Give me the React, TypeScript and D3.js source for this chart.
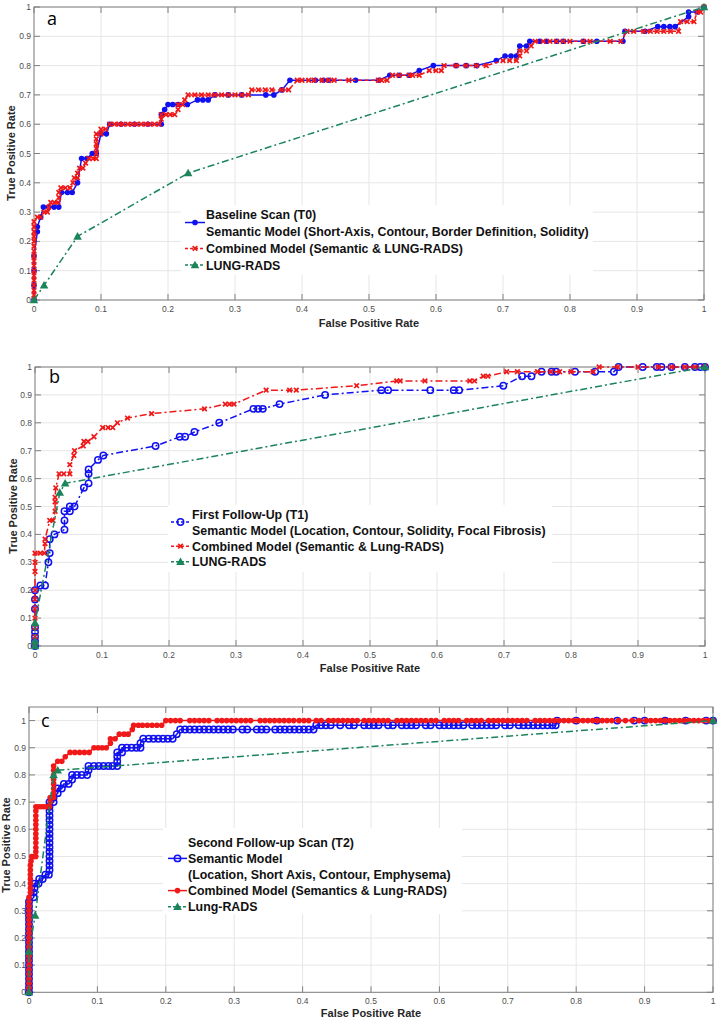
import React from 'react';
import * as d3 from 'd3';

type Pt = [number, number];

const tickValues = [0, 0.1, 0.2, 0.3, 0.4, 0.5, 0.6, 0.7, 0.8, 0.9, 1];
const tickLabels = ['0', '0.1', '0.2', '0.3', '0.4', '0.5', '0.6', '0.7', '0.8', '0.9', '1'];
const xAxisTitle = 'False Positive Rate';
const yAxisTitle = 'True Positive Rate';

// ---------- Panel a : Baseline scan (T0) ----------
const t0Semantic: Pt[] = [
  [0, 0], [0, 0.05], [0, 0.1], [0, 0.15], [0.005, 0.233], [0.005, 0.25], [0.01, 0.283], [0.014, 0.317],
  [0.022, 0.317], [0.03, 0.317], [0.037, 0.317], [0.041, 0.367], [0.05, 0.367], [0.057, 0.367], [0.065, 0.4],
  [0.071, 0.483], [0.079, 0.483], [0.087, 0.5], [0.093, 0.5], [0.1, 0.567], [0.108, 0.567], [0.113, 0.6],
  [0.13, 0.6], [0.15, 0.6], [0.17, 0.6], [0.19, 0.6], [0.19, 0.633], [0.195, 0.65], [0.2, 0.667], [0.207, 0.667],
  [0.215, 0.667], [0.229, 0.667], [0.244, 0.683], [0.252, 0.683], [0.26, 0.683], [0.27, 0.7], [0.29, 0.7],
  [0.31, 0.7], [0.346, 0.7], [0.358, 0.7], [0.37, 0.717], [0.382, 0.75], [0.42, 0.75], [0.432, 0.75],
  [0.44, 0.75], [0.48, 0.75], [0.515, 0.75], [0.531, 0.767], [0.545, 0.767], [0.56, 0.767], [0.575, 0.783],
  [0.596, 0.8], [0.63, 0.8], [0.645, 0.8], [0.661, 0.8], [0.69, 0.817], [0.703, 0.833], [0.712, 0.833],
  [0.72, 0.833], [0.725, 0.867], [0.735, 0.867], [0.74, 0.883], [0.755, 0.883], [0.765, 0.883], [0.78, 0.883],
  [0.79, 0.883], [0.82, 0.883], [0.84, 0.883], [0.879, 0.883], [0.882, 0.917], [0.912, 0.917], [0.931, 0.933],
  [0.94, 0.933], [0.949, 0.933], [0.957, 0.933], [0.977, 0.967], [0.977, 0.983], [0.99, 0.983], [1, 1],
];
const t0Combined: Pt[] = [
  [0, 0], [0, 0.017], [0, 0.033], [0, 0.05], [0, 0.067], [0, 0.083], [0, 0.1], [0, 0.117], [0, 0.133],
  [0, 0.15], [0, 0.167], [0, 0.183], [0, 0.2], [0, 0.217], [0, 0.233], [0, 0.25], [0, 0.267], [0.005, 0.283],
  [0.01, 0.283], [0.015, 0.3], [0.02, 0.3], [0.022, 0.317], [0.025, 0.333], [0.03, 0.333], [0.036, 0.333],
  [0.037, 0.35], [0.037, 0.367], [0.04, 0.383], [0.047, 0.383], [0.054, 0.383], [0.058, 0.4], [0.06, 0.417],
  [0.065, 0.417], [0.065, 0.433], [0.068, 0.45], [0.073, 0.45], [0.077, 0.467], [0.082, 0.483], [0.088, 0.483],
  [0.093, 0.483], [0.093, 0.5], [0.093, 0.517], [0.093, 0.533], [0.093, 0.55], [0.093, 0.567], [0.1, 0.567],
  [0.1, 0.583], [0.107, 0.583], [0.113, 0.6], [0.12, 0.6], [0.127, 0.6], [0.133, 0.6], [0.14, 0.6], [0.147, 0.6],
  [0.153, 0.6], [0.16, 0.6], [0.167, 0.6], [0.173, 0.6], [0.18, 0.6], [0.187, 0.6], [0.19, 0.617], [0.19, 0.633],
  [0.197, 0.633], [0.203, 0.633], [0.21, 0.633], [0.215, 0.65], [0.215, 0.667], [0.222, 0.667], [0.225, 0.683],
  [0.23, 0.7], [0.24, 0.7], [0.25, 0.7], [0.26, 0.7], [0.27, 0.7], [0.28, 0.7], [0.29, 0.7], [0.3, 0.7],
  [0.31, 0.7], [0.32, 0.7], [0.325, 0.717], [0.335, 0.717], [0.345, 0.717], [0.355, 0.717], [0.37, 0.717],
  [0.38, 0.717], [0.393, 0.75], [0.4, 0.75], [0.41, 0.75], [0.418, 0.75], [0.43, 0.75], [0.44, 0.75],
  [0.448, 0.75], [0.47, 0.75], [0.514, 0.75], [0.519, 0.75], [0.527, 0.75], [0.535, 0.767], [0.545, 0.767],
  [0.56, 0.767], [0.565, 0.767], [0.575, 0.767], [0.59, 0.783], [0.6, 0.783], [0.608, 0.783], [0.612, 0.8],
  [0.63, 0.8], [0.645, 0.8], [0.66, 0.8], [0.675, 0.8], [0.7, 0.817], [0.71, 0.817], [0.72, 0.817],
  [0.725, 0.833], [0.725, 0.85], [0.735, 0.85], [0.742, 0.867], [0.748, 0.883], [0.76, 0.883], [0.77, 0.883],
  [0.78, 0.883], [0.79, 0.883], [0.8, 0.883], [0.82, 0.883], [0.83, 0.883], [0.86, 0.883], [0.876, 0.883],
  [0.885, 0.917], [0.895, 0.917], [0.91, 0.917], [0.92, 0.917], [0.93, 0.917], [0.94, 0.917], [0.95, 0.917],
  [0.962, 0.917], [0.965, 0.95], [0.975, 0.95], [0.985, 0.95], [0.99, 0.983], [0.995, 0.983], [1, 1],
];
const t0LungRads: Pt[] = [[0, 0], [0.015, 0.05], [0.065, 0.217], [0.23, 0.433], [1, 1]];
const t0Legend = [
  'Baseline Scan (T0)',
  'Semantic Model (Short-Axis, Contour, Border Definition, Solidity)',
  'Combined Model (Semantic & LUNG-RADS)',
  'LUNG-RADS',
];

// ---------- Panel b : First follow-up (T1) ----------
const t1Semantic: Pt[] = [
  [0, 0], [0, 0.017], [0, 0.033], [0, 0.05], [0, 0.067], [0, 0.133], [0, 0.167], [0, 0.2], [0.008, 0.217],
  [0.015, 0.217], [0.02, 0.3], [0.022, 0.333], [0.022, 0.383], [0.029, 0.4], [0.044, 0.417], [0.044, 0.45],
  [0.044, 0.483], [0.052, 0.483], [0.052, 0.5], [0.059, 0.5], [0.073, 0.567], [0.08, 0.583], [0.08, 0.617],
  [0.08, 0.633], [0.094, 0.667], [0.102, 0.683], [0.18, 0.717], [0.216, 0.75], [0.224, 0.75], [0.238, 0.767],
  [0.275, 0.8], [0.326, 0.85], [0.333, 0.85], [0.34, 0.85], [0.365, 0.867], [0.433, 0.9], [0.517, 0.917],
  [0.527, 0.917], [0.59, 0.917], [0.625, 0.917], [0.633, 0.917], [0.699, 0.933], [0.727, 0.967], [0.741, 0.967],
  [0.756, 0.983], [0.771, 0.983], [0.778, 0.983], [0.806, 0.983], [0.836, 0.983], [0.864, 0.983], [0.871, 1],
  [0.907, 1], [0.928, 1], [0.935, 1], [0.95, 1], [0.97, 1], [0.985, 1], [0.993, 1], [1, 1],
];
const t1Combined: Pt[] = [
  [0, 0], [0, 0.033], [0, 0.067], [0, 0.1], [0, 0.133], [0, 0.167], [0, 0.2], [0, 0.267], [0, 0.3], [0, 0.333],
  [0.008, 0.333], [0.014, 0.333], [0.015, 0.367], [0.015, 0.383], [0.022, 0.45], [0.027, 0.45], [0.03, 0.483],
  [0.03, 0.517], [0.03, 0.533], [0.031, 0.567], [0.036, 0.617], [0.043, 0.617], [0.052, 0.617], [0.052, 0.65],
  [0.058, 0.683], [0.059, 0.7], [0.072, 0.717], [0.073, 0.733], [0.079, 0.733], [0.088, 0.75], [0.101, 0.783],
  [0.109, 0.783], [0.116, 0.783], [0.123, 0.8], [0.138, 0.817], [0.174, 0.833], [0.253, 0.85], [0.284, 0.867],
  [0.29, 0.867], [0.297, 0.867], [0.345, 0.917], [0.38, 0.917], [0.39, 0.917], [0.48, 0.933], [0.54, 0.95],
  [0.545, 0.95], [0.582, 0.95], [0.649, 0.95], [0.656, 0.95], [0.669, 0.967], [0.676, 0.967], [0.704, 0.983],
  [0.72, 0.983], [0.75, 0.983], [0.77, 0.983], [0.783, 0.983], [0.8, 0.983], [0.833, 0.983], [0.842, 1],
  [0.87, 1], [0.9, 1], [0.93, 1], [0.95, 1], [0.97, 1], [0.985, 1], [1, 1],
];
const t1LungRads: Pt[] = [[0, 0], [0, 0.017], [0, 0.083], [0.037, 0.55], [0.045, 0.583], [1, 1]];
const t1Legend = [
  'First Follow-Up (T1)',
  'Semantic Model (Location, Contour, Solidity, Focal Fibrosis)',
  'Combined Model (Semantic & Lung-RADS)',
  'LUNG-RADS',
];

// ---------- Panel c : Second follow-up (T2) ----------
const t2Semantic: Pt[] = [
  [0, 0], [0, 0.017], [0, 0.033], [0, 0.05], [0, 0.067], [0, 0.083], [0, 0.1], [0, 0.117], [0, 0.133],
  [0, 0.15], [0, 0.167], [0, 0.183], [0, 0.2], [0, 0.217], [0, 0.233], [0, 0.25], [0, 0.267], [0, 0.283],
  [0, 0.3], [0, 0.317], [0, 0.333], [0.007, 0.35], [0.007, 0.367], [0.008, 0.383], [0.008, 0.4], [0.014, 0.4],
  [0.015, 0.417], [0.02, 0.417], [0.024, 0.433], [0.029, 0.433], [0.03, 0.45], [0.03, 0.467], [0.03, 0.483],
  [0.03, 0.5], [0.03, 0.517], [0.03, 0.533], [0.03, 0.55], [0.03, 0.567], [0.03, 0.583], [0.03, 0.6],
  [0.03, 0.617], [0.03, 0.633], [0.03, 0.65], [0.03, 0.667], [0.03, 0.683], [0.03, 0.7], [0.036, 0.7],
  [0.036, 0.717], [0.042, 0.733], [0.042, 0.75], [0.048, 0.75], [0.051, 0.767], [0.058, 0.767], [0.063, 0.783],
  [0.063, 0.8], [0.07, 0.8], [0.077, 0.8], [0.085, 0.8], [0.087, 0.817], [0.087, 0.833], [0.095, 0.833],
  [0.102, 0.833], [0.109, 0.833], [0.116, 0.833], [0.122, 0.833], [0.129, 0.833], [0.129, 0.85], [0.129, 0.867],
  [0.129, 0.883], [0.136, 0.883], [0.136, 0.9], [0.143, 0.9], [0.15, 0.9], [0.157, 0.9], [0.163, 0.9],
  [0.163, 0.917], [0.167, 0.933], [0.175, 0.933], [0.182, 0.933], [0.189, 0.933], [0.196, 0.933], [0.203, 0.933],
  [0.21, 0.933], [0.216, 0.95], [0.221, 0.967], [0.228, 0.967], [0.235, 0.967], [0.242, 0.967], [0.249, 0.967],
  [0.256, 0.967], [0.263, 0.967], [0.27, 0.967], [0.277, 0.967], [0.284, 0.967], [0.291, 0.967], [0.298, 0.967],
  [0.312, 0.967], [0.319, 0.967], [0.333, 0.967], [0.34, 0.967], [0.347, 0.967], [0.36, 0.967], [0.367, 0.967],
  [0.374, 0.967], [0.381, 0.967], [0.388, 0.967], [0.395, 0.967], [0.402, 0.967], [0.409, 0.967], [0.416, 0.967],
  [0.42, 0.983], [0.427, 0.983], [0.434, 0.983], [0.441, 0.983], [0.455, 0.983], [0.468, 0.983], [0.475, 0.983],
  [0.49, 0.983], [0.497, 0.983], [0.504, 0.983], [0.511, 0.983], [0.525, 0.983], [0.532, 0.983], [0.545, 0.983],
  [0.552, 0.983], [0.559, 0.983], [0.566, 0.983], [0.58, 0.983], [0.587, 0.983], [0.6, 0.983], [0.607, 0.983],
  [0.614, 0.983], [0.621, 0.983], [0.628, 0.983], [0.635, 0.983], [0.648, 0.983], [0.655, 0.983], [0.662, 0.983],
  [0.669, 0.983], [0.676, 0.983], [0.683, 0.983], [0.696, 0.983], [0.703, 0.983], [0.716, 0.983], [0.723, 0.983],
  [0.73, 0.983], [0.737, 0.983], [0.744, 0.983], [0.751, 0.983], [0.758, 0.983], [0.765, 0.983], [0.77, 0.983],
  [0.772, 1], [0.8, 1], [0.83, 1], [0.86, 1], [0.885, 1], [0.9, 1], [0.93, 1], [0.96, 1], [0.99, 1], [1, 1],
];
const t2Combined: Pt[] = [
  [0, 0], [0, 0.017], [0, 0.033], [0, 0.05], [0, 0.067], [0, 0.083], [0, 0.1], [0, 0.117], [0, 0.133],
  [0, 0.15], [0, 0.167], [0, 0.183], [0, 0.2], [0, 0.217], [0, 0.233], [0, 0.25], [0, 0.267], [0, 0.283],
  [0, 0.3], [0, 0.317], [0, 0.333], [0, 0.35], [0.002, 0.367], [0.002, 0.383], [0.002, 0.4], [0.002, 0.417],
  [0.002, 0.433], [0.002, 0.45], [0.002, 0.467], [0.003, 0.483], [0.004, 0.5], [0.007, 0.5], [0.01, 0.5],
  [0.01, 0.517], [0.01, 0.533], [0.01, 0.55], [0.01, 0.567], [0.01, 0.583], [0.01, 0.6], [0.01, 0.617],
  [0.01, 0.633], [0.01, 0.65], [0.01, 0.667], [0.01, 0.683], [0.014, 0.683], [0.018, 0.683], [0.022, 0.683],
  [0.026, 0.683], [0.03, 0.683], [0.031, 0.7], [0.031, 0.717], [0.034, 0.717], [0.036, 0.717], [0.036, 0.733],
  [0.036, 0.75], [0.036, 0.767], [0.036, 0.783], [0.036, 0.8], [0.036, 0.817], [0.036, 0.833], [0.042, 0.85],
  [0.048, 0.85], [0.053, 0.867], [0.06, 0.883], [0.067, 0.883], [0.074, 0.883], [0.081, 0.883], [0.088, 0.883],
  [0.095, 0.9], [0.101, 0.9], [0.107, 0.9], [0.113, 0.9], [0.119, 0.917], [0.119, 0.933], [0.126, 0.933],
  [0.132, 0.95], [0.139, 0.95], [0.145, 0.95], [0.151, 0.967], [0.153, 0.983], [0.16, 0.983], [0.166, 0.983],
  [0.173, 0.983], [0.18, 0.983], [0.187, 0.983], [0.194, 0.983], [0.2, 1], [0.207, 1], [0.214, 1], [0.221, 1],
  [0.235, 1], [0.242, 1], [0.249, 1], [0.256, 1], [0.263, 1], [0.275, 1], [0.282, 1], [0.289, 1], [0.296, 1],
  [0.303, 1], [0.31, 1], [0.317, 1], [0.324, 1], [0.338, 1], [0.345, 1], [0.352, 1], [0.359, 1], [0.366, 1],
  [0.373, 1], [0.38, 1], [0.387, 1], [0.395, 1], [0.402, 1], [0.409, 1], [0.42, 1], [0.427, 1], [0.438, 1],
  [0.445, 1], [0.452, 1], [0.459, 1], [0.466, 1], [0.473, 1], [0.48, 1], [0.49, 1], [0.497, 1], [0.504, 1],
  [0.511, 1], [0.518, 1], [0.525, 1], [0.538, 1], [0.545, 1], [0.552, 1], [0.559, 1], [0.566, 1], [0.573, 1],
  [0.58, 1], [0.588, 1], [0.595, 1], [0.607, 1], [0.614, 1], [0.621, 1], [0.628, 1], [0.64, 1], [0.647, 1],
  [0.654, 1], [0.661, 1], [0.672, 1], [0.679, 1], [0.686, 1], [0.693, 1], [0.7, 1], [0.707, 1], [0.714, 1],
  [0.721, 1], [0.728, 1], [0.74, 1], [0.747, 1], [0.754, 1], [0.761, 1], [0.768, 1], [0.775, 1], [0.782, 1],
  [0.789, 1], [0.796, 1], [0.803, 1], [0.81, 1], [0.817, 1], [0.824, 1], [0.831, 1], [0.838, 1], [0.845, 1],
  [0.852, 1], [0.862, 1], [0.872, 1], [0.882, 1], [0.892, 1], [0.902, 1], [0.909, 1], [0.916, 1], [0.923, 1],
  [0.93, 1], [0.937, 1], [0.944, 1], [0.951, 1], [0.958, 1], [0.965, 1], [0.972, 1], [0.979, 1], [0.986, 1],
  [0.993, 1], [1, 1],
];
const t2LungRads: Pt[] = [[0, 0], [0, 0.15], [0.009, 0.283], [0.036, 0.8], [0.042, 0.817], [1, 1]];
const t2Legend = [
  'Second Follow-up Scan (T2)',
  'Semantic Model',
  '(Location, Short Axis, Contour, Emphysema)',
  'Combined Model (Semantics & Lung-RADS)',
  'Lung-RADS',
];

// ---------- styling ----------
const BLUE = '#1010f0';
const RED = '#f01818';
const GREEN = '#1b845a';
const FONT = "'Liberation Sans', Arial, sans-serif";

type Marker = 'dot' | 'x' | 'circle' | 'tri';
interface Series {
  data: Pt[];
  color: string;
  dash: string | null;
  marker: Marker;
  legendRow: number;
}

interface PanelCfg {
  letter: string;
  left: number;
  right: number;
  top: number;
  bottom: number;
  yMax: number;
  series: Series[];
  legend: string[];
  legendX: number;
  legendTop: number;
  legendStep: number;
  legendBox: [number, number, number, number];
  sampleX: [number, number];
  letterPos: [number, number];
  xTitleY: number;
  yTitleX: number;
  yTitleCY: number;
}

const DASHDOT = '7,3,2,3';
const DASHED = '4,2.5';

const panels: PanelCfg[] = [
  {
    letter: 'a', left: 34, right: 704, top: 7, bottom: 300, yMax: 1,
    series: [
      { data: t0Semantic, color: BLUE, dash: null, marker: 'dot', legendRow: 0.45 },
      { data: t0Combined, color: RED, dash: DASHED, marker: 'x', legendRow: 2 },
      { data: t0LungRads, color: GREEN, dash: DASHDOT, marker: 'tri', legendRow: 3 },
    ],
    legend: t0Legend, legendX: 206, legendTop: 215, legendStep: 16.7,
    legendBox: [181, 205, 593, 275], sampleX: [185, 205], letterPos: [47, 25],
    xTitleY: 327, yTitleX: 15, yTitleCY: 153,
  },
  {
    letter: 'b', left: 35, right: 705, top: 367, bottom: 646, yMax: 1,
    series: [
      { data: t1Semantic, color: BLUE, dash: DASHDOT, marker: 'circle', legendRow: 0.45 },
      { data: t1Combined, color: RED, dash: DASHDOT, marker: 'x', legendRow: 2 },
      { data: t1LungRads, color: GREEN, dash: DASHDOT, marker: 'tri', legendRow: 3 },
    ],
    legend: t1Legend, legendX: 192, legendTop: 515, legendStep: 15.6,
    legendBox: [168, 505, 552, 572], sampleX: [171, 190], letterPos: [49, 383],
    xTitleY: 672, yTitleX: 17, yTitleCY: 506,
  },
  {
    letter: 'c', left: 29, right: 713, top: 707, bottom: 992.3, yMax: 1.05,
    series: [
      { data: t2Semantic, color: BLUE, dash: null, marker: 'circle', legendRow: 1 },
      { data: t2Combined, color: RED, dash: null, marker: 'dot', legendRow: 3 },
      { data: t2LungRads, color: GREEN, dash: DASHDOT, marker: 'tri', legendRow: 4 },
    ],
    legend: t2Legend, legendX: 188, legendTop: 842.3, legendStep: 16.1,
    legendBox: [163, 828, 462, 914], sampleX: [168, 187], letterPos: [41, 727],
    xTitleY: 1017, yTitleX: 10, yTitleCY: 845,
  },
];

function MarkerShape({ kind, cx, cy, color }: { kind: Marker; cx: number; cy: number; color: string }) {
  if (kind === 'dot') return <circle cx={cx} cy={cy} r={2.8} fill={color} />;
  if (kind === 'circle') return <circle cx={cx} cy={cy} r={3.2} fill="none" stroke={color} strokeWidth={1.5} />;
  if (kind === 'x') {
    const s = 2.3;
    return (
      <g stroke={color} strokeWidth={1.7}>
        <line x1={cx - s} y1={cy - s} x2={cx + s} y2={cy + s} />
        <line x1={cx - s} y1={cy + s} x2={cx + s} y2={cy - s} />
      </g>
    );
  }
  const h = 4.3;
  return <path d={`M${cx},${cy - h} L${cx + h},${cy + h * 0.75} L${cx - h},${cy + h * 0.75} Z`} fill={color} />;
}

function Panel({ cfg }: { cfg: PanelCfg }) {
  const x = d3.scaleLinear().domain([0, 1]).range([cfg.left, cfg.right]);
  const y = d3.scaleLinear().domain([0, cfg.yMax]).range([cfg.bottom, cfg.top]);
  const line = d3.line<Pt>().x((d) => x(d[0])).y((d) => y(d[1]));
  const tl = 6;
  const frame = '#808080';
  const [bx0, by0, bx1, by1] = cfg.legendBox;
  return (
    <g>
      {tickValues.map((t) => (
        <line key={'gx' + t} x1={x(t)} x2={x(t)} y1={cfg.top} y2={cfg.bottom} stroke="#e6e6e6" strokeWidth={1} />
      ))}
      {tickValues.map((t) => (
        <line key={'gy' + t} x1={cfg.left} x2={cfg.right} y1={y(t)} y2={y(t)} stroke="#e6e6e6" strokeWidth={1} />
      ))}
      <rect x={cfg.left} y={cfg.top} width={cfg.right - cfg.left} height={cfg.bottom - cfg.top} fill="none" stroke={frame} strokeWidth={1} />
      {tickValues.map((t) => (
        <g key={'tk' + t} stroke={frame} strokeWidth={1}>
          <line x1={x(t)} x2={x(t)} y1={cfg.bottom} y2={cfg.bottom - tl} />
          <line x1={x(t)} x2={x(t)} y1={cfg.top} y2={cfg.top + tl} />
          <line x1={cfg.left} x2={cfg.left + tl} y1={y(t)} y2={y(t)} />
          <line x1={cfg.right} x2={cfg.right - tl} y1={y(t)} y2={y(t)} />
        </g>
      ))}
      {tickValues.map((t, i) => (
        <text key={'xl' + t} x={x(t)} y={cfg.bottom + 11.5} fontSize={8.5} fill="#4d4d4d" textAnchor="middle" fontFamily={FONT}>
          {tickLabels[i]}
        </text>
      ))}
      {tickValues.map((t, i) => (
        <text key={'yl' + t} x={cfg.left - 3} y={y(t) + 3} fontSize={8.5} fill="#4d4d4d" textAnchor="end" fontFamily={FONT}>
          {tickLabels[i]}
        </text>
      ))}
      <text x={(cfg.left + cfg.right) / 2} y={cfg.xTitleY} fontSize={11} fontWeight="bold" fill="#262626" textAnchor="middle" fontFamily={FONT}>
        {xAxisTitle}
      </text>
      <text transform={`translate(${cfg.yTitleX},${cfg.yTitleCY}) rotate(-90)`} fontSize={11} fontWeight="bold" fill="#262626" textAnchor="middle" fontFamily={FONT}>
        {yAxisTitle}
      </text>
      {cfg.series.map((s, si) => (
        <g key={'s' + si}>
          <path d={line(s.data) || ''} fill="none" stroke={s.color} strokeWidth={1.5} strokeDasharray={s.dash || undefined} />
          {s.data.map((d, i) => (
            <MarkerShape key={i} kind={s.marker} cx={x(d[0])} cy={y(d[1])} color={s.color} />
          ))}
        </g>
      ))}
      <text x={cfg.letterPos[0]} y={cfg.letterPos[1]} fontSize={18} fill="#000" fontFamily="'Open Sans', sans-serif">
        {cfg.letter}
      </text>
      <rect x={bx0} y={by0} width={bx1 - bx0} height={by1 - by0} fill="#fff" />
      {cfg.legend.map((t, i) => (
        <text key={'lg' + i} x={cfg.legendX} y={cfg.legendTop + i * cfg.legendStep + 4.4} fontSize={12.4} fontWeight="bold" fill="#111" fontFamily={FONT}>
          {t}
        </text>
      ))}
      {cfg.series.map((s, si) => {
        const ly = cfg.legendTop + s.legendRow * cfg.legendStep;
        const mx = (cfg.sampleX[0] + cfg.sampleX[1]) / 2;
        return (
          <g key={'ls' + si}>
            <line x1={cfg.sampleX[0]} x2={cfg.sampleX[1]} y1={ly} y2={ly} stroke={s.color} strokeWidth={1.5} strokeDasharray={s.dash ? '3,2' : undefined} />
            <MarkerShape kind={s.marker} cx={mx} cy={ly} color={s.color} />
          </g>
        );
      })}
    </g>
  );
}

export default function App() {
  return (
    <svg width={720} height={1020} style={{ position: 'absolute', left: 0, top: 0, background: '#fff' }}>
      <rect x={0} y={0} width={720} height={1020} fill="#fff" />
      {panels.map((p) => (
        <Panel key={p.letter} cfg={p} />
      ))}
    </svg>
  );
}
